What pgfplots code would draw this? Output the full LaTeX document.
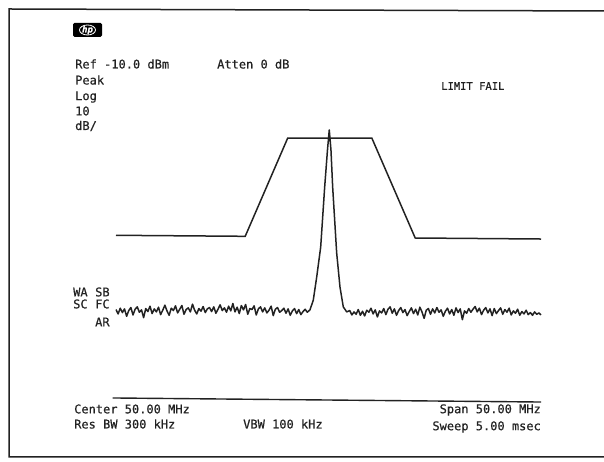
\documentclass[border=0pt]{standalone}
\usepackage{fontspec}
\setmainfont{DejaVu Sans Mono}[FakeBold=0.6]
\usepackage{pgfplots}
\pgfplotsset{compat=1.18}
\definecolor{ink}{HTML}{222222}
\begin{document}
\begin{tikzpicture}
\useasboundingbox (0pt,0pt) rectangle (604pt,462pt);
% outer frame
\draw[ink, line width=1.5pt] (604pt,451pt) -- (9pt,453pt) -- (9pt,5pt) -- (604pt,5pt);
% hp logo
\fill[black, rounded corners=1.5pt] (73pt,425pt) rectangle (102pt,439pt);
\draw[white, line width=0.8pt] (87.5pt,432pt) ellipse (8pt and 5pt);
\node[white, font=\fontsize{9}{9}\selectfont\itshape\bfseries] at (87.5pt,432pt) {hp};
\begin{axis}[
  at={(116pt,62pt)}, anchor=south west,
  scale only axis, width=425pt, height=270pt,
  xmin=25, xmax=75, ymin=-90, ymax=-10,
  hide axis, clip=false,
]
% limit line
\addplot[ink, line width=1.5pt, mark=none] coordinates {
 (25,-41.2) (40.2,-41.5) (45.2,-12.4) (55.1,-12.4) (60.2,-42.0) (75,-42.3)
};
% bottom graticule line
\addplot[ink, line width=1.4pt, mark=none] coordinates {(24.6,-89.4) (75,-90.6)};
% trace
\addplot[ink, line width=1.5pt, mark=none, line join=round] coordinates {
(25.00,-63.2) (25.25,-64.5) (25.50,-62.8) (25.75,-64.1) (26.00,-63.0) (26.25,-65.2) (26.50,-63.5) (26.75,-62.6) (27.00,-64.8) (27.25,-63.1)
(27.50,-62.4) (27.75,-64.0) (28.00,-63.3) (28.25,-65.6) (28.50,-62.9) (28.75,-63.8) (29.00,-62.2) (29.25,-64.4) (29.50,-63.0) (29.75,-63.9)
(30.00,-62.5) (30.25,-64.7) (30.50,-63.4) (30.75,-61.9) (31.00,-63.6) (31.25,-64.9) (31.50,-62.8) (31.75,-63.5) (32.00,-62.1) (32.25,-64.2)
(32.50,-63.1) (32.75,-62.0) (33.00,-64.6) (33.25,-63.2) (33.50,-62.7) (33.75,-63.9) (34.00,-61.6) (34.25,-63.4) (34.50,-64.5) (34.75,-62.9)
(35.00,-63.7) (35.25,-62.3) (35.50,-64.1) (35.75,-63.0) (36.00,-62.6) (36.25,-63.8) (36.50,-62.4) (36.75,-64.3) (37.00,-63.1) (37.25,-61.8)
(37.50,-63.5) (37.75,-62.7) (38.00,-64.0) (38.25,-62.2) (38.50,-63.6) (38.75,-61.4) (39.00,-63.9) (39.25,-62.5) (39.50,-64.4) (39.75,-62.0)
(40.00,-63.3) (40.25,-61.7) (40.50,-64.6) (40.75,-62.9) (41.00,-63.2) (41.25,-62.1) (41.50,-64.8) (41.75,-63.0) (42.00,-62.4) (42.25,-63.9)
(42.50,-62.7) (42.75,-64.2) (43.00,-63.4) (43.25,-62.2) (43.50,-65.0) (43.75,-63.1) (44.00,-62.6) (44.25,-64.0) (44.50,-63.5) (44.75,-62.8)
(45.00,-64.3) (45.25,-63.0) (45.50,-64.9) (45.75,-63.6) (46.00,-62.9) (46.25,-64.4) (46.50,-63.2) (46.75,-64.7) (47.00,-63.8) (47.25,-63.1)
(47.50,-64.0)
(47.82,-63.3) (48.21,-60.4) (48.61,-53.6) (49.08,-44.7) (49.55,-26.9) (49.88,-15.9) (50.09,-10.0) (50.29,-15.9) (50.49,-26.9) (50.96,-46.4)
(51.35,-56.5) (51.74,-62.4) (52.14,-63.9)
(52.50,-63.5) (52.75,-64.8) (53.00,-63.9) (53.25,-64.6) (53.50,-63.2) (53.75,-64.9) (54.00,-63.7) (54.25,-65.1) (54.50,-63.4)
(54.75,-64.0) (55.00,-62.8) (55.25,-64.5) (55.50,-63.3) (55.75,-65.4) (56.00,-63.6) (56.25,-64.2) (56.50,-62.9) (56.75,-64.7) (57.00,-63.1)
(57.25,-62.4) (57.50,-64.3) (57.75,-63.0) (58.00,-64.9) (58.25,-63.5) (58.50,-62.6) (58.75,-64.1) (59.00,-63.2) (59.25,-65.0) (59.50,-63.8)
(59.75,-62.7) (60.00,-64.4) (60.25,-63.1) (60.50,-64.8) (60.75,-62.5) (61.00,-63.9) (61.25,-65.8) (61.50,-63.4) (61.75,-62.9) (62.00,-64.6)
(62.25,-63.0) (62.50,-64.2) (62.75,-62.6) (63.00,-64.0) (63.25,-63.3) (63.50,-65.2) (63.75,-63.7) (64.00,-62.8) (64.25,-64.5) (64.50,-63.2)
(64.75,-64.9) (65.00,-62.7) (65.25,-64.1) (65.50,-63.0) (65.75,-66.2) (66.00,-63.6) (66.25,-64.3) (66.50,-62.9) (66.75,-64.0) (67.00,-63.1)
(67.25,-62.3) (67.50,-63.9) (67.75,-62.8) (68.00,-64.7) (68.25,-63.4) (68.50,-62.6) (68.75,-64.2) (69.00,-63.0) (69.25,-65.0) (69.50,-62.9)
(69.75,-64.4) (70.00,-63.5) (70.25,-62.7) (70.50,-64.6) (70.75,-63.2) (71.00,-64.0) (71.25,-62.8) (71.50,-64.8) (71.75,-63.6) (72.00,-64.3)
(72.25,-63.1) (72.50,-64.9) (72.75,-63.8) (73.00,-64.5) (73.25,-63.4) (73.50,-64.7) (73.75,-64.1) (74.00,-64.9) (74.25,-63.9) (74.50,-64.6)
(74.75,-64.2) (75.00,-64.8)
};
\end{axis}
% annotations (pixel positions, y measured from bottom)
\begin{scope}[every node/.style={ink, inner sep=0pt, font=\fontsize{12}{13}\selectfont}]
\node[anchor=west] at (75pt,398pt) {Ref -10.0 dBm};
\node[anchor=west] at (75pt,382pt) {Peak};
\node[anchor=west] at (75pt,365pt) {Log};
\node[anchor=west] at (75pt,351pt) {10};
\node[anchor=west] at (75pt,336pt) {dB/};
\node[anchor=west] at (217pt,398pt) {Atten 0 dB};
\node[anchor=west, font=\fontsize{10.5}{12}\selectfont] at (441pt,376pt) {LIMIT FAIL};
\node[anchor=west] at (73pt,170pt) {WA};
\node[anchor=west] at (95pt,170pt) {SB};
\node[anchor=west] at (73pt,158pt) {SC};
\node[anchor=west] at (95pt,158pt) {FC};
\node[anchor=west] at (95pt,140pt) {AR};
\node[anchor=west] at (74pt,53pt) {Center 50.00 MHz};
\node[anchor=west] at (74pt,38pt) {Res BW 300 kHz};
\node[anchor=west] at (243pt,38pt) {VBW 100 kHz};
\node[anchor=east] at (541pt,52pt) {Span 50.00 MHz};
\node[anchor=east] at (541pt,35pt) {Sweep 5.00 msec};
\end{scope}
\end{tikzpicture}
\end{document}
